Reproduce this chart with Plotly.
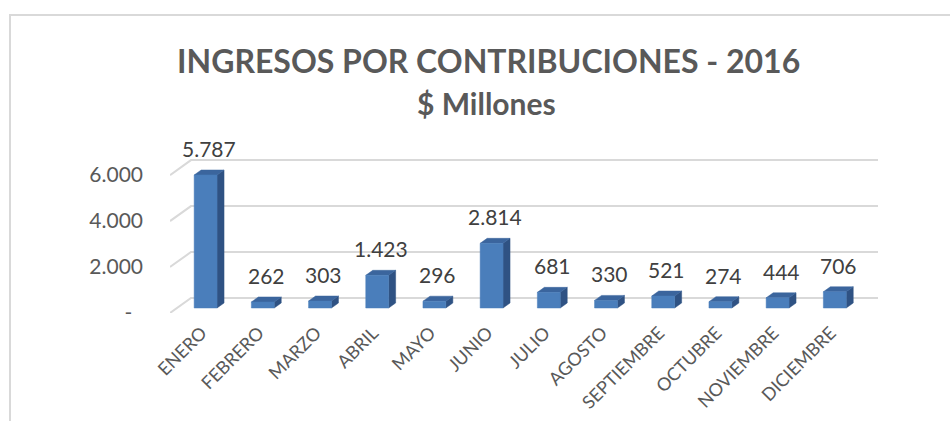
import plotly.graph_objects as go

# Monthly contribution income, 2016 ($ millions)
months = ["ENERO", "FEBRERO", "MARZO", "ABRIL", "MAYO", "JUNIO",
          "JULIO", "AGOSTO", "SEPTIEMBRE", "OCTUBRE", "NOVIEMBRE", "DICIEMBRE"]
income = [5787, 262, 303, 1423, 296, 2814, 681, 330, 521, 274, 444, 706]
y_ticks = [0, 2000, 4000, 6000]
y_tick_text = ["-\u00a0\u00a0", "2.000", "4.000", "6.000"]

title_text = "INGRESOS POR CONTRIBUCIONES - 2016"
subtitle_text = "$ Millones"

W, H = 950, 421
# plot area in pixels
L, R, T, B = 170, 878, 150, 313
PX_PER_CAT = 57.2          # horizontal pixels per category
PX_PER_UNIT = 0.02298      # vertical pixels per $ million
BAR_W = 0.40               # bar width in category units

# pseudo-3D depth offsets (pixels): bar depth, floor front edge, back wall
BAR_DX, BAR_DY = 7, 5
FRONT_DX, FRONT_DY = -7, -5
BACK_DX, BACK_DY = 14, 10

cx = lambda px: px / PX_PER_CAT
cy = lambda px: px / PX_PER_UNIT

x0 = -0.5 + cx(FRONT_DX)
x1 = x0 + cx(R - L)
y0 = cy(FRONT_DY)
y1 = y0 + cy(B - T)

idx = list(range(len(months)))
FRONT = "#4a7ebb"
SIDE = "#2f5283"
TOP = "#3b659d"
GRID = "#d9d9d9"
TXT = "#595959"
FONT = "Lato"

fig = go.Figure()

# back-wall gridlines with their diagonal run to the front floor edge
gx, gy = [], []
for v in y_ticks:
    gx += [x0, -0.5 + cx(BACK_DX), x1, None]
    gy += [v + y0, v + cy(BACK_DY), v + cy(BACK_DY), None]
fig.add_trace(go.Scatter(x=gx, y=gy, mode="lines", line=dict(color=GRID, width=2),
                         hoverinfo="skip", showlegend=False, cliponaxis=False))

# bar faces: front, side and top, each as filled polygons
fx, fy, sx, sy, tx, ty = [], [], [], [], [], []
ddx, ddy = cx(BAR_DX), cy(BAR_DY)
for i, v in zip(idx, income):
    r_ = i + BAR_W / 2
    l_ = i - BAR_W / 2
    fx += [l_, r_, r_, l_, l_, None]
    fy += [0, 0, v, v, 0, None]
    sx += [r_, r_ + ddx, r_ + ddx, r_, r_, None]
    sy += [0, ddy, v + ddy, v, 0, None]
    tx += [l_, l_ + ddx, r_ + ddx, r_, l_, None]
    ty += [v, v + ddy, v + ddy, v, v, None]
for px_, py_, col in ((sx, sy, SIDE), (tx, ty, TOP), (fx, fy, FRONT)):
    fig.add_trace(go.Scatter(x=px_, y=py_, mode="lines", fill="toself", fillcolor=col,
                             line=dict(color=col, width=0.5), hoverinfo="skip",
                             showlegend=False, cliponaxis=False))

# value labels
for i, v in zip(idx, income):
    fig.add_annotation(x=i + ddx / 2, y=v, yanchor="bottom", yshift=BAR_DY + 7,
                       text=f"{v:,}".replace(",", "."), showarrow=False,
                       font=dict(family=FONT, size=21, color="#404040"))

# titles
fig.add_annotation(xref="paper", yref="paper", x=(488 - L) / (R - L), y=(B - 60) / (B - T),
                   text=f"<b>{title_text}</b>", showarrow=False, xanchor="center", yanchor="middle",
                   font=dict(family=FONT, size=32, color=TXT))
fig.add_annotation(xref="paper", yref="paper", x=(486 - L) / (R - L), y=(B - 103) / (B - T),
                   text=f"<b>{subtitle_text}</b>", showarrow=False, xanchor="center", yanchor="middle",
                   font=dict(family=FONT, size=30, color=TXT))

# chart frame
fig.add_shape(type="rect", xref="paper", yref="paper",
              x0=(10 - L) / (R - L), x1=(W + 20 - L) / (R - L),
              y0=(B - H - 20) / (B - T), y1=(B - 15) / (B - T),
              line=dict(color=GRID, width=2), fillcolor="rgba(0,0,0,0)", layer="below")

fig.update_layout(
    width=W, height=H, margin=dict(l=L, r=W - R, t=T, b=H - B, autoexpand=False),
    paper_bgcolor="white", plot_bgcolor="white",
    showlegend=False,
    xaxis=dict(range=[x0, x1], tickvals=idx, ticktext=months, tickangle=-45,
               showgrid=False, zeroline=False, showline=False, ticks="", automargin=False,
               tickfont=dict(family=FONT, size=18, color=TXT),
               ticklabelstandoff=5, ticklabelshift=-4),
    yaxis=dict(range=[y0, y1], tickvals=[v + y0 for v in y_ticks], ticktext=y_tick_text,
               showgrid=False, zeroline=False, showline=False, ticks="", automargin=False,
               tickfont=dict(family=FONT, size=21, color=TXT), ticklabelstandoff=26),
)

fig.write_html("out.html")
